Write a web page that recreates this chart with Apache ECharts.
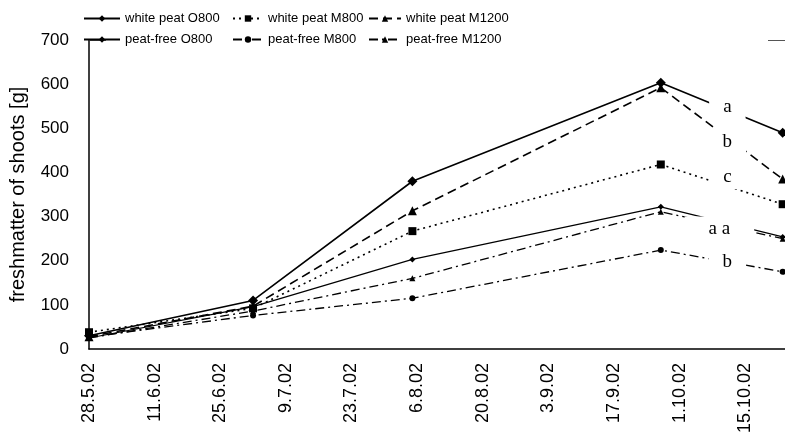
<!DOCTYPE html>
<html>
<head>
<meta charset="utf-8">
<script src="https://cdn.jsdelivr.net/npm/echarts@6/dist/echarts.min.js"></script>
<style>
html,body{margin:0;padding:0;background:#fff;}
#main{width:785px;height:441px;}
</style>
</head>
<body>
<div id="main"></div>
<script>
// sampling dates and tick labels (x axis counts days from 28.5.02)
var dates = ['28.5.02', '2.7.02', '5.8.02', '27.9.02', '23.10.02']
var tickLabels = ['28.5.02','11.6.02','25.6.02','9.7.02','23.7.02','6.8.02','20.8.02','3.9.02','17.9.02','1.10.02','15.10.02']

var names = ['white peat O800','peat-free O800','white peat M800','peat-free M800','white peat M1200','peat-free M1200']
var whiteO800 = [30, 110, 380, 603, 490]
var whiteM800 = [38, 92, 267, 418, 328]
var whiteM1200 = [28, 97, 313, 592, 385]
var freeO800 = [25, 96, 203, 322, 254]
var freeM800 = [27, 76, 115, 224, 175]
var freeM1200 = [25, 86, 160, 311, 250]

// letters at the end of the curves
var noteText = ['a', 'b', 'c', 'a a', 'b']
var noteDay = [136.2, 136.2, 136.2, 134.5, 136.2]
var noteValue = [548, 470, 390, 272, 197]

function dayOf(s){
	var p = s.split('.')
	var t = Date.UTC(2000 + (+p[2]), p[1] - 1, +p[0])
	return Math.round((t - Date.UTC(2002, 4, 28)) / 86400000)
}

function pts(vals){
	return vals.map(function(v, i){ return [dayOf(dates[i]), v] })
}

var chart = echarts.init(document.getElementById('main'))

function ser(name, vals, dash, symbol, size, width){
	return {
		name: name,
		type: 'line',
		data: pts(vals),
		symbol: symbol,
		symbolSize: size,
		showSymbol: true,
		clip: false,
		itemStyle: {color: '#000'},
		lineStyle: {color: '#000', width: width, type: dash},
		z: 3
	}
}

function legendCol(left, w, data){
	return {
		orient: 'vertical',
		left: left,
		top: 7,
		itemGap: 8,
		itemWidth: w,
		itemHeight: 8,
		data: data,
		textStyle: {fontFamily: 'Liberation Sans', fontSize: 13, color: '#000'},
		z: 10
	}
}

var option = {
	animation: false,
	backgroundColor: '#fff',
	grid: {left: 88, top: 40, right: 0, bottom: 92},
	legend: [
		legendCol(78, 36, [names[0], names[1]]),
		legendCol(227, 30, [names[2], names[3]]),
		legendCol(363, 32, [names[4], names[5]])
	],
	xAxis: [{
		type: 'value',
		min: 0,
		max: 148.5,
		interval: 14,
		splitLine: {show: false},
		axisTick: {show: false},
		axisLine: {lineStyle: {color: '#000', width: 1.5}},
		axisLabel: {
			rotate: 90,
			margin: 14,
			fontFamily: 'Liberation Sans',
			fontSize: 18,
			color: '#000',
			formatter: function(v){
				var i = v / 14
				return (i === Math.round(i) && tickLabels[i]) ? tickLabels[i] : ''
			}
		}
	}, {
		// thin frame line along the top of the plot
		type: 'value',
		position: 'top',
		min: 0,
		max: 148.5,
		axisLine: {lineStyle: {color: '#555', width: 1}},
		axisTick: {show: false},
		axisLabel: {show: false},
		splitLine: {show: false}
	}],
	yAxis: {
		type: 'value',
		min: 0,
		max: 700,
		interval: 100,
		name: 'freshmatter of shoots [g]',
		nameLocation: 'middle',
		nameGap: 61,
		nameTextStyle: {fontFamily: 'Liberation Sans', fontSize: 20, color: '#000'},
		splitLine: {show: false},
		axisTick: {show: false},
		axisLine: {show: true, lineStyle: {color: '#000', width: 1.5}},
		axisLabel: {margin: 20, fontFamily: 'Liberation Sans', fontSize: 17, color: '#000'}
	},
	series: [
		ser(names[0], whiteO800, 'solid', 'diamond', 10, 1.6),
		ser(names[1], freeO800, 'solid', 'diamond', 6, 1.1),
		ser(names[2], whiteM800, [2, 4], 'rect', 8, 1.6),
		ser(names[3], freeM800, [9, 4, 2, 4], 'circle', 6, 1.3),
		ser(names[4], whiteM1200, [9, 5], 'triangle', 9, 1.6),
		ser(names[5], freeM1200, [9, 4, 2, 4], 'triangle', 6, 1.3)
	],
	graphic: [
		{type: 'rect', shape: {x: 106, y: 30, width: 662, height: 20}, style: {fill: '#fff'}, z: 5, silent: true}
	]
}

chart.setOption(option)

// put letters on white boxes so the curves break around them
var notes = noteText.map(function(t, i){
	var p = chart.convertToPixel({gridIndex: 0}, [noteDay[i], noteValue[i]])
	var wide = t.length > 1
	return {
		type: 'text',
		x: p[0], y: p[1],
		z: 20,
		style: {
			text: t,
			fontFamily: 'Liberation Serif',
			fontSize: 19,
			fill: '#000',
			align: 'center',
			verticalAlign: 'middle',
			backgroundColor: '#fff',
			padding: wide ? [3, 24] : [3, 14]
		}
	}
})
chart.setOption({graphic: option.graphic.concat(notes)})
</script>
</body>
</html>
